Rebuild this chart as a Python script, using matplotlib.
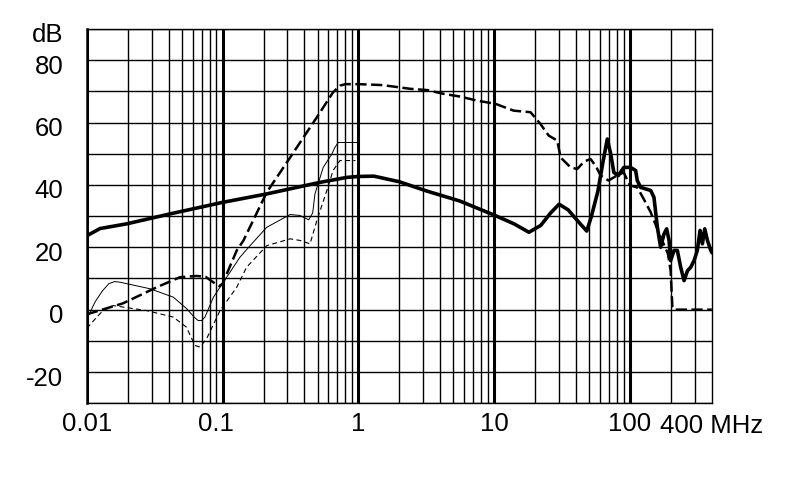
import matplotlib
matplotlib.use("Agg")
import matplotlib.pyplot as plt
import matplotlib.transforms as mtransforms
import numpy as np

plt.rcParams['font.family'] = ['Liberation Sans', 'DejaVu Sans']

# ---- data (frequency in MHz, level in dB) ----
thick_f = [0.01, 0.0125, 0.0196, 0.041, 0.1, 0.211, 0.52, 0.82, 1.0, 1.3, 2.0, 3.2,
           5.6, 10.0, 14.0, 18.0, 22.0, 26.0, 30.0, 35.0, 42.0, 48.0, 52.0, 58.0,
           63.0, 68.0, 72.0, 76.0, 82.0, 90.0, 100.9, 110, 113, 119.7, 142, 150,
           159, 168, 178, 186, 194, 199, 211, 223, 236, 250, 265, 280, 296, 313,
           328, 341, 355, 372, 393, 400]
thick_db = [23.7, 26.0, 27.5, 30.7, 34.4, 37.1, 40.8, 42.4, 42.7, 42.8, 41.0, 38.0,
            34.8, 30.3, 27.5, 24.8, 27.0, 31.0, 33.8, 32.0, 28.0, 25.2, 30.0, 38.0,
            47.0, 54.7, 50.0, 44.0, 43.0, 45.6, 45.6, 44.6, 41.4, 39.2, 38.2, 36.0,
            26.4, 20.0, 24.3, 25.9, 22.1, 15.7, 19.0, 19.0, 13.6, 9.3, 12.5, 13.6,
            15.7, 19.0, 25.4, 21.1, 25.9, 22.1, 19.0, 18.4]

dash_f = [0.01, 0.0184, 0.0328, 0.0484, 0.0643, 0.075, 0.085, 0.095, 0.1, 0.127,
          0.142, 0.211, 0.314, 0.494, 0.65, 0.73, 0.8, 1.0, 1.5, 2.41, 3.2, 4.22,
          5.63, 7.48, 10.2, 13.9, 18.5, 21.9, 25.2, 29.1, 30.8, 36.5, 40.8, 46.0,
          51.2, 56.0, 60.7, 69.5, 80.0, 89.7, 100.0, 113.0, 126.0, 142.0, 168.0,
          190.0, 199.0, 205.0, 210.0, 400.0]
dash_db = [-1.5, 2.0, 7.2, 10.4, 10.8, 10.5, 8.8, 7.5, 8.4, 19.0,
           22.1, 37.6, 48.8, 61.7, 69.7, 71.8, 72.3, 72.3, 72.0, 70.8, 70.4, 69.2,
           68.3, 67.0, 66.0, 63.8, 63.3, 59.5, 55.8, 54.2, 48.8, 45.6, 45.1, 47.5,
           48.3, 46.0, 43.0, 41.4, 43.0, 44.0, 39.8, 39.2, 35.5, 31.2, 23.2,
           18.0, 12.5, 0.8, 0.0, 0.0]

thin_f = [0.01, 0.0105, 0.0115, 0.013, 0.0145, 0.016, 0.0175, 0.0291, 0.0433,
          0.0543, 0.062, 0.066, 0.070, 0.074, 0.0855, 0.107, 0.134, 0.159, 0.211,
          0.314, 0.37, 0.43, 0.46, 0.478, 0.55, 0.637, 0.67, 0.71, 0.98, 1.0]
thin_db = [-3.0, -1.0, 2.5, 6.0, 8.3, 9.0, 8.8, 6.7, 4.0,
           0.3, -2.5, -3.5, -3.5, -2.4, 4.0, 10.4, 16.8, 20.5, 26.4,
           30.5, 30.2, 28.8, 31.0, 37.1, 45.6, 49.9, 52.0, 53.6, 53.6, 51.5]

thind_f = [0.01, 0.0115, 0.013, 0.0156, 0.0275, 0.0433, 0.054, 0.0625, 0.068,
           0.076, 0.0956, 0.127, 0.15, 0.211, 0.314, 0.37, 0.44, 0.494, 0.585,
           0.65, 0.73, 0.95]
thind_db = [-6.0, -3.0, -0.5, 1.3, -0.3, -2.4, -5.6, -11.5, -12.0,
            -9.4, -0.3, 7.2, 13.6, 20.5, 22.7, 22.2, 21.1, 28.6, 38.2,
            44.6, 47.8, 47.8]

decade_ticks = [0.01, 0.1, 1, 10, 100]
decade_labels = ['0.01', '0.1', '1', '10', '100']
y_ticks = [90, 80, 70, 60, 50, 40, 30, 20, 10, 0, -10, -20, -30]
y_labels = ['dB', '80', '', '60', '', '40', '', '20', '', '0', '', '-20', '']

FS = 18.5

fig = plt.figure(figsize=(7.9, 4.99), dpi=100)
ax = fig.add_axes([0.110, 0.192, 0.791, 0.750])
ax.set_xscale('log')
ax.set_xlim(0.01, 400)
ax.set_ylim(-30, 90)

# grid
minor = []
for d in [0.01, 0.1, 1, 10, 100]:
    for m in range(2, 10):
        v = d * m
        if v < 400:
            minor.append(v)
ax.set_xticks(decade_ticks)
ax.set_xticklabels(decade_labels)
ax.set_xticks(minor, minor=True)
ax.set_xticklabels([], minor=True)
ax.set_yticks(y_ticks)
ax.set_yticklabels(y_labels)
ax.tick_params(which='both', length=0, labelsize=FS, colors='black')
ax.tick_params(axis='x', pad=6)
ax.tick_params(axis='y', pad=17)
ax.grid(which='minor', axis='x', color='black', lw=1.0)
ax.grid(which='major', axis='x', color='black', lw=2.2)
ax.grid(which='major', axis='y', color='black', lw=1.0)
ax.set_axisbelow(True)
for s in ax.spines.values():
    s.set_color('black')
    s.set_linewidth(1.0)
ax.spines['left'].set_linewidth(1.8)

# small offsets to mimic the reference label placement
down = mtransforms.ScaledTranslation(0, -4 / 100, fig.dpi_scale_trans)
for lab in ax.get_yticklabels():
    lab.set_transform(lab.get_transform() + down)
left = mtransforms.ScaledTranslation(-7 / 100, 0, fig.dpi_scale_trans)
xl = ax.get_xticklabels()
xl[1].set_transform(xl[1].get_transform() + left)

ax.text(400, -33.6, '400 MHz', ha='center', va='top', fontsize=FS,
        transform=ax.transData, clip_on=False)

ax.plot(thick_f, thick_db, color='black', lw=2.6, solid_joinstyle='round', zorder=5)
ax.plot(dash_f, dash_db, color='black', lw=1.8, dashes=(4.5, 1.8), zorder=4)
ax.plot(thin_f, thin_db, color='black', lw=0.7, zorder=4)
ax.plot(thind_f, thind_db, color='black', lw=0.8, dashes=(4.5, 3), zorder=4)

fig.savefig('out.png', dpi=100)
